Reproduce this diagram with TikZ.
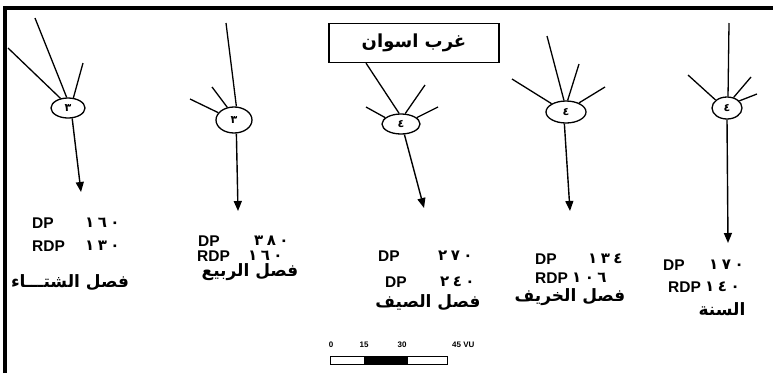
\documentclass[tikz,border=0pt]{standalone}
\usepackage{fontspec}
\setmainfont{Liberation Sans}
\newfontfamily\arabicfont[Script=Arabic]{DejaVu Sans}
\TeXXeTstate=1
\usetikzlibrary{shapes.geometric,arrows.meta,calc}

\newcommand\gapnum[3]{#1\hspace{3.5pt}#2\hspace{3.5pt}#3}

\tikzset{
  frame/.style={line width=3.5pt},
  station/.style={ellipse,draw,line width=1.3pt,inner sep=0pt,
    font=\fontsize{11}{11}\selectfont\arabicfont\bfseries},
  feeder/.style={line width=1.3pt},
  flow/.style={line width=1.4pt,-{Triangle[length=10pt,width=8pt]}},
  lbl/.style={font=\fontsize{15.5}{15.5}\selectfont\bfseries,anchor=west,inner sep=0pt},
  num/.style={font=\fontsize{15}{15}\selectfont\arabicfont\bfseries,anchor=west,inner sep=0pt},
  season/.style={font=\fontsize{17}{17}\selectfont\arabicfont\bfseries,inner sep=0pt},
  namebox/.style={draw,line width=1.3pt,minimum width=170pt,minimum height=39pt,
    font=\fontsize{18}{18}\selectfont\arabicfont\bfseries},
  scalelbl/.style={font=\fontsize{8}{8}\selectfont\bfseries,inner sep=0pt},
}

\begin{document}
\begin{tikzpicture}[x=1pt,y=-1pt]
\useasboundingbox (0,0) rectangle (773,373);

% frame (top and left edges)
\draw[frame] (5,373) -- (5,8) -- (773,8);

% ---------- winter ----------
\node[station,minimum width=34pt,minimum height=20pt] (e1) at (68,108) {٣};
\coordinate (w1) at (8,48);
\coordinate (w2) at (35,18);
\coordinate (w3) at (83,63);
\coordinate (w4) at (81,192);
\draw[feeder] (w1) -- (e1.128);
\draw[feeder] (w2) -- (e1.97);
\draw[feeder] (w3) -- (e1.62);
\draw[flow] (e1.-68) -- (w4);
\node[lbl] (w5) at (32,223) {DP};
\node[num] (w6) at (85,223) {\gapnum{١}{٦}{٠}};
\node[lbl] (w7) at (32,246) {RDP};
\node[num] (w8) at (85,246) {\gapnum{١}{٣}{٠}};
\node[season] (w9) at (70,283) {\beginR فصل الشتـــاء\endR};

% ---------- spring ----------
\node[station,minimum width=36pt,minimum height=26pt] (e2) at (234,120) {٣};
\coordinate (s1) at (190,99);
\coordinate (s2) at (212,87);
\coordinate (s3) at (226,23);
\coordinate (s4) at (238,211);
\draw[feeder] (s1) -- (e2.155);
\draw[feeder] (s2) -- (e2.118);
\draw[feeder] (s3) -- (e2.80);
\draw[flow] (e2.-80) -- (s4);
\node[lbl] (s5) at (198,241) {DP};
\node[num] (s6) at (254,241) {\gapnum{٣}{٨}{٠}};
\node[lbl] (s7) at (197,256) {RDP};
\node[num] (s8) at (248,256) {\gapnum{١}{٦}{٠}};
\node[season] (s9) at (250,272) {\beginR فصل الربيع\endR};

% ---------- summer ----------
\node[namebox] (box) at (414,43) {\beginR غرب اسوان\endR};
\node[station,minimum width=38pt,minimum height=20pt] (e3) at (401,124) {٤};
\coordinate (m1) at ($(box.south west)!0.22!(box.south east)$);
\coordinate (m2) at (425,85);
\coordinate (m3) at (366,107);
\coordinate (m4) at (438,107);
\coordinate (m5) at (424,208);
\draw[feeder] (m1) -- (e3.100);
\draw[feeder] (m2) -- (e3.68);
\draw[feeder] (m3) -- (e3.158);
\draw[feeder] (m4) -- (e3.22);
\draw[flow] (e3.-72) -- (m5);
\node[lbl] (m6) at (378,256) {DP};
\node[num] (m7) at (438,256) {\gapnum{٢}{٧}{٠}};
\node[lbl] (m8) at (385,282) {DP};
\node[num] (m9) at (440,282) {\gapnum{٢}{٤}{٠}};
\node[season] (m10) at (428,303) {\beginR فصل الصيف\endR};

% ---------- autumn ----------
\node[station,minimum width=40pt,minimum height=22pt] (e4) at (566,112) {٤};
\coordinate (a1) at (512,79);
\coordinate (a2) at (547,36);
\coordinate (a3) at (579,64);
\coordinate (a4) at (605,87);
\coordinate (a5) at (570,211);
\draw[feeder] (a1) -- (e4.150);
\draw[feeder] (a2) -- (e4.100);
\draw[feeder] (a3) -- (e4.82);
\draw[feeder] (a4) -- (e4.35);
\draw[flow] (e4.-98) -- (a5);
\node[lbl] (a6) at (535,259) {DP};
\node[num] (a7) at (588,259) {\gapnum{١}{٣}{٤}};
\node[lbl] (a8) at (535,278) {RDP};
\node[num] (a9) at (572,278) {\gapnum{١}{٠}{٦}};
\node[season] (a10) at (570,297) {\beginR فصل الخريف\endR};

% ---------- year ----------
\node[station,minimum width=30pt,minimum height=22pt] (e5) at (727,108) {٤};
\coordinate (y1) at (729,23);
\coordinate (y2) at (688,75);
\coordinate (y3) at (751,77);
\coordinate (y4) at (757,94);
\coordinate (y5) at (728,243);
\draw[feeder] (y1) -- (e5.85);
\draw[feeder] (y2) -- (e5.145);
\draw[feeder] (y3) -- (e5.58);
\draw[feeder] (y4) -- (e5.30);
\draw[flow] (e5.-90) -- (y5);
\node[lbl] (y6) at (663,265) {DP};
\node[num] (y7) at (709,265) {\gapnum{١}{٧}{٠}};
\node[lbl] (y8) at (668,287) {RDP};
\node[num] (y9) at (705,287) {\gapnum{١}{٤}{٠}};
\node[season] (y10) at (722,309) {\beginR السنة\endR};

% ---------- scale bar ----------
\node[scalelbl] (k0) at (331,345) {0};
\node[scalelbl] (k1) at (364,345) {15};
\node[scalelbl] (k2) at (402,345) {30};
\node[scalelbl,anchor=west] (k3) at (452,345) {45 VU};
\draw[line width=0.9pt] (330,356) rectangle (447,364);
\fill (364,356) rectangle (408,364);
\end{tikzpicture}
\end{document}
